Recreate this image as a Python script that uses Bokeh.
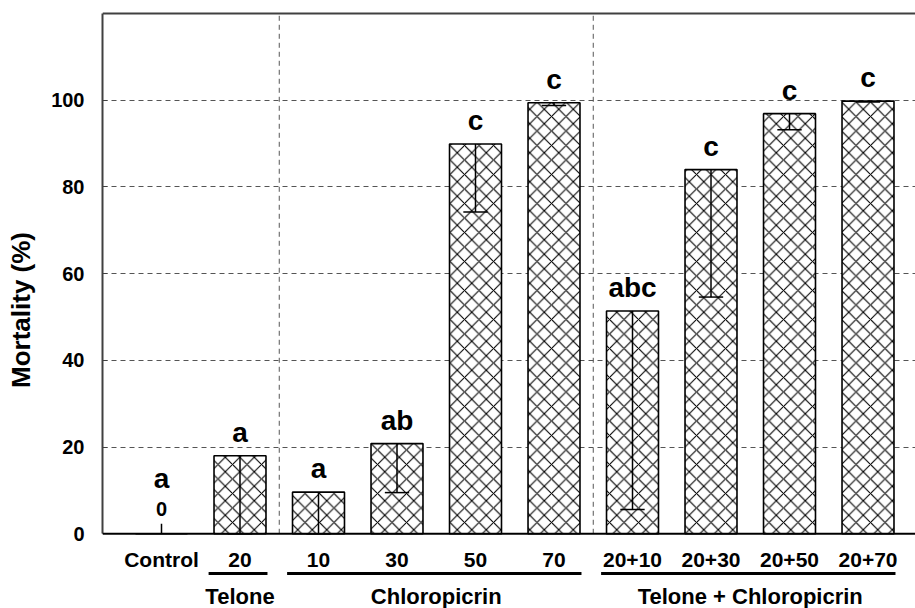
import numpy as np
from bokeh.plotting import figure
from bokeh.models import Range1d, FixedTicker, Span
from bokeh.core.properties import value
from bokeh.embed import file_html
from bokeh.resources import INLINE

# ---- data -------------------------------------------------------------
categories = ["Control", "20", "10", "30", "50", "70", "20+10", "20+30", "20+50", "20+70"]
mortality = [0.0, 18.0, 9.6, 20.8, 89.9, 99.4, 51.4, 84.0, 96.9, 99.8]
whisker_end = [2.3, 0.0, 0.0, 9.5, 74.2, 98.8, 5.6, 54.6, 93.2, 99.6]
letters = ["a", "a", "a", "ab", "c", "c", "abc", "c", "c", "c"]
group_names = ["Telone", "Chloropicrin", "Telone + Chloropicrin"]
group_members = [["20"], ["10", "30", "50", "70"], ["20+10", "20+30", "20+50", "20+70"]]
y_ticks = [0, 20, 40, 60, 80, 100]
y_max = 120

# ---- figure -----------------------------------------------------------
FONT = "Liberation Sans"
GRID = "#555555"
x = np.arange(len(categories))
vals = np.array(mortality)
wend = np.array(whisker_end)

p = figure(width=915, height=608,
           x_range=Range1d(-0.7516, 9.605), y_range=Range1d(-17.23, 120.46),
           output_backend="svg", toolbar_location=None, x_axis_location=None,
           min_border_left=102, min_border_right=0, min_border_top=11, min_border_bottom=0)
p.outline_line_color = None
p.xgrid.grid_line_color = None
p.ygrid.ticker = FixedTicker(ticks=[t for t in y_ticks if t > 0])
p.ygrid.grid_line_color = GRID
p.ygrid.grid_line_dash = "5 4"
p.ygrid.grid_line_width = 1

yax = p.yaxis[0]
yax.ticker = FixedTicker(ticks=y_ticks)
yax.bounds = (0, y_max)
yax.axis_line_color = "#404040"
yax.axis_line_width = 2
yax.major_tick_in = 5
yax.major_tick_out = 0
yax.major_tick_line_color = "#404040"
yax.minor_tick_line_color = None
yax.major_label_text_font = FONT
yax.major_label_text_font_size = "20px"
yax.major_label_text_font_style = "bold"
yax.major_label_text_color = "black"
yax.major_label_standoff = 18
yax.axis_label = "Mortality (%)"
yax.axis_label_text_font = FONT
yax.axis_label_text_font_size = "26px"
yax.axis_label_text_font_style = "bold"
yax.axis_label_text_color = "black"
yax.axis_label_standoff = 12

# group index ranges
first = [categories.index(m[0]) for m in group_members]
last = [categories.index(m[-1]) for m in group_members]

# vertical dashed separators between groups (upper part only)
seps = [f - 0.5 for f in first[1:]]
p.segment(x0=seps, y0=[0] * len(seps), x1=seps, y1=[y_max] * len(seps),
          line_color=GRID, line_dash="5 4", line_width=1)

# bars
p.vbar(x=x, top=vals, width=0.662, bottom=0,
       fill_color="white", line_color="black", line_width=1.6,
       hatch_pattern="x", hatch_scale=14.5, hatch_weight=1.1, hatch_color="black")

# error whiskers (drawn downward inside bars)
p.segment(x0=x, y0=vals, x1=x, y1=wend, line_color="black", line_width=1.5)
cap = wend < vals
p.segment(x0=x[cap] - 0.155, y0=wend[cap], x1=x[cap] + 0.155, y1=wend[cap],
          line_color="black", line_width=1.5)

# frame lines
p.add_layout(Span(location=0, dimension="width", line_color="black", line_width=2))
p.add_layout(Span(location=y_max, dimension="width", line_color="#404040", line_width=2))

# significance letters
letter_y = [v + 5.4 if v > 0 else 12.75 for v in mortality]
p.text(x=x, y=letter_y, text=letters, text_align="center", text_baseline="middle",
       text_font=value(FONT), text_font_size="28px", text_font_style="bold", text_color="black")

# value text for zero bars
zero = vals == 0
p.text(x=x[zero], y=[5.8] * int(zero.sum()), text=["0"] * int(zero.sum()),
       text_align="center", text_baseline="middle",
       text_font=value(FONT), text_font_size="20px", text_font_style="bold", text_color="black")

# category labels
p.text(x=x, y=[-5.97] * len(x), text=categories, text_align="center", text_baseline="middle",
       text_font=value(FONT), text_font_size="21px", text_font_style="bold", text_color="black")

# group underlines and names
p.segment(x0=[f - 0.4 for f in first], y0=[-9.17] * 3, x1=[l + 0.35 for l in last], y1=[-9.17] * 3,
          line_color="black", line_width=3)
p.text(x=[(f + l) / 2 for f, l in zip(first, last)], y=[-14.5] * 3, text=group_names,
       text_align="center", text_baseline="middle",
       text_font=value(FONT), text_font_size="22px", text_font_style="bold", text_color="black")

open("out.html", "w").write(file_html(p, INLINE))
